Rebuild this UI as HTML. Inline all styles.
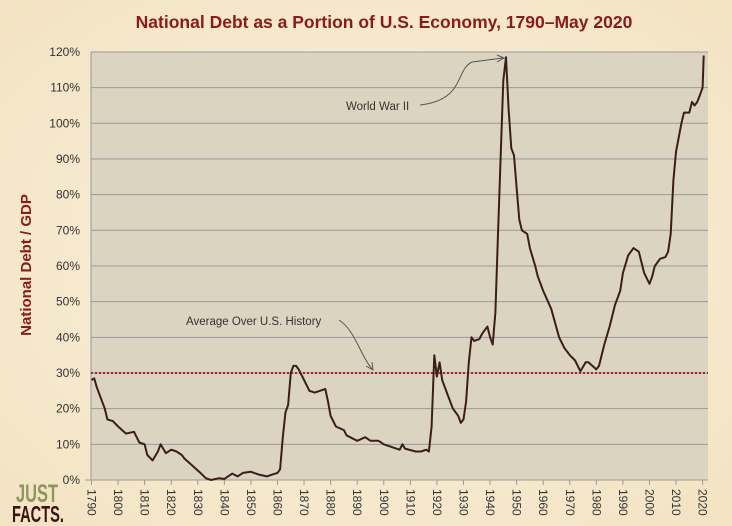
<!DOCTYPE html>
<html><head><meta charset="utf-8"><style>
html,body{margin:0;padding:0;width:732px;height:526px;overflow:hidden;background:#f6e9cf;font-family:"Liberation Sans",sans-serif}
</style></head><body>
<svg id="s" width="732" height="526" xmlns="http://www.w3.org/2000/svg" font-family="Liberation Sans, sans-serif">
<defs><radialGradient id="bg" cx="50%" cy="50%" r="70%"><stop offset="0" stop-color="#fbf1dc"/><stop offset="1" stop-color="#f3e3c3"/></radialGradient></defs>
<rect width="732" height="526" fill="url(#bg)"/>
<text x="384" y="28" text-anchor="middle" font-size="17.5" font-weight="bold" fill="#8b1a1a">National Debt as a Portion of U.S. Economy, 1790–May 2020</text>
<rect x="91" y="52" width="617" height="428" fill="#dbd4c1"/>
<g id="grid" stroke="#9a9a9a" stroke-width="1"></g>
<g id="yl" font-size="12" fill="#333" text-anchor="end"></g>
<g id="xl" font-size="12" fill="#333"></g>
<line x1="91" y1="373" x2="708" y2="373" stroke="#b0202a" stroke-width="2" stroke-dasharray="2,2"/>
<polyline id="p" fill="none" stroke="#3a1e1a" stroke-width="2" stroke-linejoin="round"/>
<text x="346" y="110" font-size="11.5" fill="#333">World War II</text>
<path d="M420,105 C465,100 455,70 472,62 L503,58" fill="none" stroke="#555" stroke-width="1"/>
<path d="M497,55 L504,58 L497,62" fill="none" stroke="#555" stroke-width="1"/>
<text x="186" y="325" font-size="11.5" fill="#333">Average  Over  U.S. History</text>
<path d="M339,320 C355,330 360,355 372,369" fill="none" stroke="#555" stroke-width="1"/>
<path d="M366,366 L373,370 L372,362" fill="none" stroke="#555" stroke-width="1"/>
<text transform="translate(31,265) rotate(-90)" text-anchor="middle" font-size="15" font-weight="bold" fill="#8b1a1a">National Debt / GDP</text>
<text transform="translate(16,502) scale(1,1.4)" font-size="18" font-weight="bold" fill="#8f9560" textLength="42" lengthAdjust="spacingAndGlyphs">JUST</text>
<text transform="translate(12,522) scale(1,1.3)" font-size="18" font-weight="bold" fill="#3a1410" textLength="52" lengthAdjust="spacingAndGlyphs">FACTS.</text>
</svg>
<script>
var NS="http://www.w3.org/2000/svg";
function X(y){return 91.5+(y-1790)*2.657}
function Y(v){return 480-v*3.567}
var g=document.getElementById('grid'),yl=document.getElementById('yl'),xl=document.getElementById('xl');
for(var i=0;i<=12;i++){var y=Y(i*10);var l=document.createElementNS(NS,'line');l.setAttribute('x1',i==0?85:91);l.setAttribute('x2',708);l.setAttribute('y1',y);l.setAttribute('y2',y);g.appendChild(l);
var t=document.createElementNS(NS,'text');t.setAttribute('x',80);t.setAttribute('y',y+4);t.textContent=(i*10)+'%';yl.appendChild(t);}
var l=document.createElementNS(NS,'line');l.setAttribute('x1',91);l.setAttribute('x2',91);l.setAttribute('y1',52);l.setAttribute('y2',480);g.appendChild(l);
for(var yr=1790;yr<=2020;yr+=10){var x=X(yr);var tk=document.createElementNS(NS,'line');tk.setAttribute('x1',x);tk.setAttribute('x2',x);tk.setAttribute('y1',480);tk.setAttribute('y2',485);g.appendChild(tk);
var t=document.createElementNS(NS,'text');t.setAttribute('transform','translate('+(x-4)+',489) rotate(90)');t.textContent=yr;xl.appendChild(t);}
var d=[1790,28,1791,28.5,1792,26,1795,20,1796,17,1798,16.5,1800,15,1803,13,1806,13.5,1808,10.5,1810,10,1811,7,1813,5.5,1815,8,1816,10,1818,7.5,1820,8.5,1822,8,1824,7,1825,6,1828,4,1831,2,1833,0.5,1835,0,1838,0.5,1840,0.3,1843,1.8,1845,1,1847,2,1850,2.3,1853,1.5,1856,1,1858,1.5,1860,2,1861,3,1862,12,1863,19,1864,21,1865,30,1866,32,1867,32,1868,31,1870,28,1872,25,1874,24.5,1876,25,1878,25.5,1879,22,1880,18,1882,15,1885,14,1886,12.5,1890,11,1893,12,1895,11,1898,11,1900,10,1904,9,1906,8.5,1907,10,1908,8.8,1912,8,1914,8,1916,8.5,1917,8,1918,15,1919,35,1920,29,1921,33,1922,28,1924,24,1926,20,1928,18,1929,16,1930,17,1931,22,1932,33,1933,40,1934,39,1936,39.5,1937,41,1938,42,1939,43,1940,40,1941,38,1942,47,1943,69,1944,91,1945,112,1946,118.5,1947,104,1948,93,1949,91,1950,82,1951,73,1952,70,1954,69,1955,65,1957,60,1958,57,1960,53,1963,48,1966,40,1968,37,1970,35,1972,33.5,1974,30.5,1976,33,1977,33,1980,31,1981,32,1983,38,1985,43,1987,49,1989,53,1990,58,1992,63,1994,65,1996,64,1998,58,2000,55,2001,57,2002,60,2004,62,2006,62.5,2007,64,2008,69,2009,84,2010,92,2011,96,2012,100,2013,103,2015,103,2016,106,2017,105,2018,106,2019,108,2020,110,2020.4,119];
var pts=[];for(var i=0;i<d.length;i+=2)pts.push(X(d[i]).toFixed(1)+','+Y(d[i+1]).toFixed(1));
document.getElementById('p').setAttribute('points',pts.join(' '));
</script>
</body></html>
